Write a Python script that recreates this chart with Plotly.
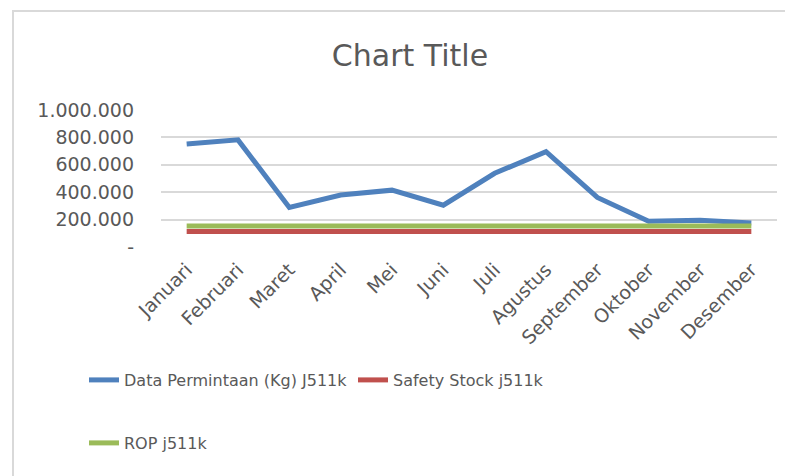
import plotly.graph_objects as go

months = ["Januari", "Februari", "Maret", "April", "Mei", "Juni", "Juli",
          "Agustus", "September", "Oktober", "November", "Desember"]
permintaan = [752000, 782000, 289000, 379000, 415000, 305000, 538000,
              696000, 362000, 188000, 195000, 176000]
safety_stock = [113000] * 12
rop = [154000] * 12

y_tickvals = [0, 200000, 400000, 600000, 800000, 1000000]
y_ticktext = ["-", "200.000", "400.000", "600.000", "800.000", "1.000.000"]

FONT = "DejaVu Sans"
TXT = "#595959"

fig = go.Figure()
fig.add_trace(go.Scatter(x=months, y=permintaan, mode="lines",
                         name="Data Permintaan (Kg) J511k",
                         line=dict(color="#4F81BD", width=5), legend="legend"))
fig.add_trace(go.Scatter(x=months, y=safety_stock, mode="lines",
                         name="Safety Stock j511k",
                         line=dict(color="#C0504D", width=5), legend="legend"))
fig.add_trace(go.Scatter(x=months, y=rop, mode="lines",
                         name="ROP j511k",
                         line=dict(color="#9BBB59", width=5), legend="legend2"))

# page offset of the figure (body margin) is 8px
OFF = 8
W, H = 793, 476
ml, mr, mt, mb = 161 - OFF, W + OFF - 777, 110 - OFF, H + OFF - 247
pw = W - ml - mr
ph = H - mt - mb


def px_x(page_x):
    return (page_x - OFF - ml) / pw


def px_y(page_y):
    return (H - mb - (page_y - OFF)) / ph


fig.update_layout(
    width=W, height=H,
    margin=dict(l=ml, r=mr, t=mt, b=mb),
    paper_bgcolor="white", plot_bgcolor="white",
    font=dict(family=FONT, color=TXT, size=16),
    title=dict(text="Chart Title", x=(410 - OFF) / W, xanchor="center", xref="container",
               y=1 - (55 - OFF) / H, yanchor="middle", yref="container",
               font=dict(family=FONT, size=30, color=TXT)),
    xaxis=dict(range=[-0.5, 11.5], showgrid=False, zeroline=False, showline=False,
               tickangle=-45, tickfont=dict(size=19, color=TXT), ticks="",
               ticklabelstandoff=7),
    yaxis=dict(range=[0, 1000000], tickvals=y_tickvals, ticktext=y_ticktext,
               showgrid=True, gridcolor="#D9D9D9", gridwidth=1.5, zeroline=False,
               showline=False, tickfont=dict(size=19, color=TXT), ticks="",
               ticklabelstandoff=26),
    legend=dict(orientation="h", x=px_x(84), xanchor="left",
                y=px_y(380), yanchor="middle", yref="paper",
                entrywidth=224, entrywidthmode="pixels",
                font=dict(family=FONT, size=16, color=TXT), bgcolor="rgba(0,0,0,0)"),
    legend2=dict(orientation="h", x=px_x(84), xanchor="left",
                 y=px_y(443), yanchor="middle", yref="paper",
                 font=dict(family=FONT, size=16, color=TXT), bgcolor="rgba(0,0,0,0)"),
    showlegend=True,
)

fig.add_shape(type="rect", xref="paper", yref="paper",
              x0=px_x(13), x1=px_x(W + 30),
              y0=px_y(H + 30), y1=px_y(11),
              line=dict(color="#D9D9D9", width=2), fillcolor="rgba(0,0,0,0)", layer="below")

fig.write_html("out.html")
